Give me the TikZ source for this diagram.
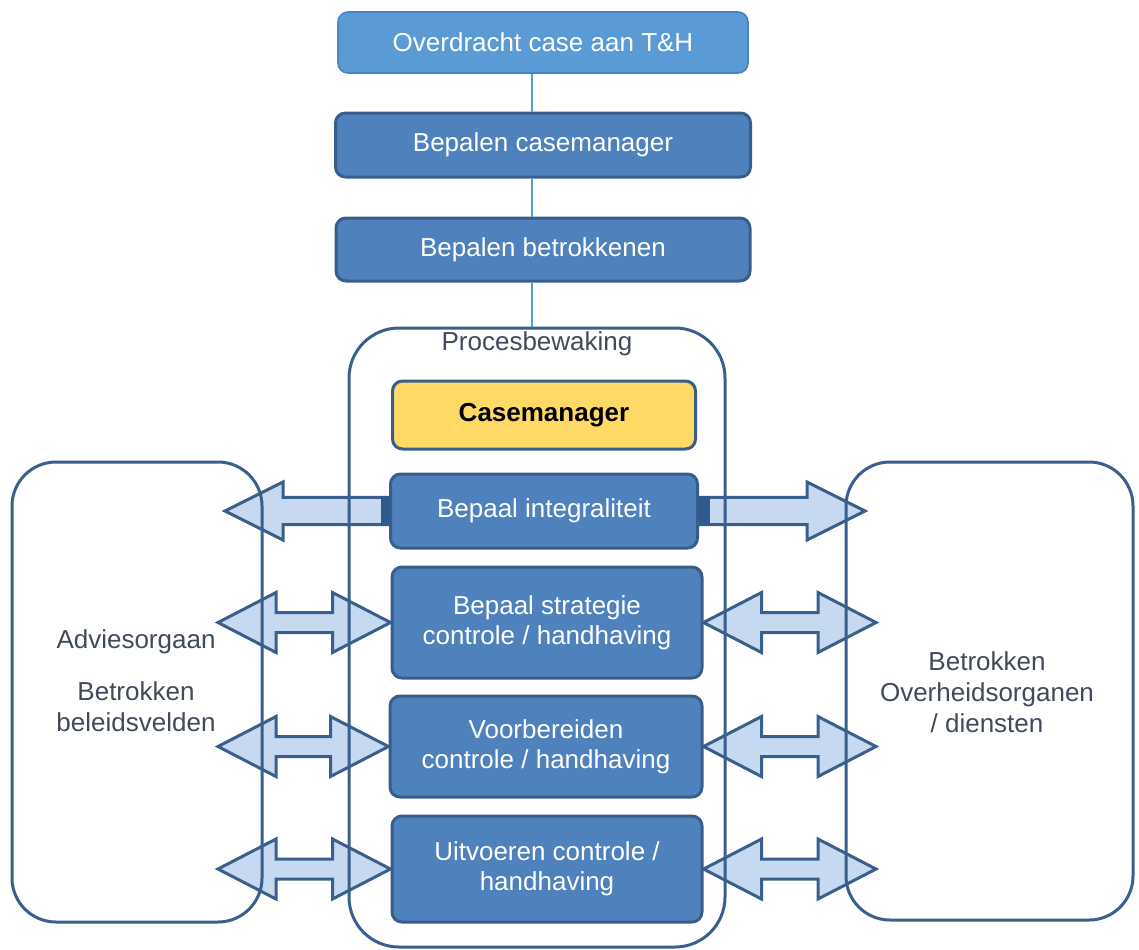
\documentclass[tikz,border=0pt]{standalone}
\usepackage{fontspec}
\setmainfont{Liberation Sans}
\usetikzlibrary{positioning,calc}

\definecolor{stepblue}{HTML}{4F81BD}
\definecolor{stepedge}{HTML}{385D8A}
\definecolor{startblue}{HTML}{5B9BD5}
\definecolor{startedge}{HTML}{4A84C0}
\definecolor{caseyellow}{HTML}{FFD966}
\definecolor{arrowfill}{HTML}{C6D9F1}
\definecolor{frameblue}{HTML}{3A5F8C}
\definecolor{labelgray}{HTML}{404A5C}
\definecolor{tailshade}{HTML}{2E5A8E}

\pgfdeclarelayer{arrows}
\pgfsetlayers{arrows,main}

% fat two-headed arrow between two points on one level
\newcommand{\dblarrow}[2]{%
  \path[fatarrow] let \p1=(#1), \p2=(#2),
      \p3=($(#1)!29pt!(#2)$), \p4=($(#2)!29pt!(#1)$) in
    (\x1,\y1) -- (\x3,\y1+15pt) -- (\x3,\y1+5pt) -- (\x4,\y1+5pt) -- (\x4,\y1+15pt)
    -- (\x2,\y1) -- (\x4,\y1-15pt) -- (\x4,\y1-5pt) -- (\x3,\y1-5pt) -- (\x3,\y1-15pt) -- cycle;}
% fat one-headed arrow, tail at #1, tip at #2
\newcommand{\onearrow}[2]{%
  \path[fatarrow] let \p1=(#1), \p2=(#2), \p3=($(#2)!29pt!(#1)$) in
    (\x1,\y1+6.8pt) -- (\x3,\y1+6.8pt) -- (\x3,\y1+14.5pt) -- (\x2,\y1)
    -- (\x3,\y1-14.5pt) -- (\x3,\y1-6.8pt) -- (\x1,\y1-6.8pt) -- cycle;}

\begin{document}
\begin{tikzpicture}
    [
    x=0.5pt, y=-0.5pt,
    on grid,
    stepbox/.style={draw=stepedge, line width=1.5pt, fill=stepblue, text=white, rounded corners=5pt, align=center, inner sep=2pt, font=\fontsize{13}{15}\selectfont},
    startbox/.style={stepbox, draw=startedge, line width=0.8pt, fill=startblue},
    casebox/.style={stepbox, fill=caseyellow, text=black, font=\fontsize{13}{15}\selectfont\bfseries},
    partybox/.style={draw=frameblue, line width=1.5pt, rounded corners=22pt},
    partytext/.style={text=labelgray, align=center, font=\fontsize{13}{15.5}\selectfont},
    procframe/.style={draw=frameblue, line width=1.5pt, rounded corners=25pt},
    link/.style={draw=startblue, line width=0.6pt},
    fatarrow/.style={draw=frameblue, fill=arrowfill, line width=1.5pt},
    ]

    \useasboundingbox (0,0) rectangle (1139,949);

    % intake steps
    \node[startbox, minimum width=205pt, minimum height=30.5pt] (box_overdracht) at (543,42.5) {Overdracht case aan T\&H};
    \node[stepbox, minimum width=207.5pt, minimum height=32pt, below=51.25pt of box_overdracht] (box_bep_cm) {Bepalen casemanager};
    \node[stepbox, minimum width=207pt, minimum height=31.5pt, below=52.25pt of box_bep_cm] (box_bep_betr) {Bepalen betrokkenen};

    % parties left and right
    \node[partybox, minimum width=125pt, minimum height=230pt] (box_advies) at (137,692) {};
    \node[partytext] (lbl_advies) at (136,681) {Adviesorgaan\\[10.5pt]Betrokken\\beleidsvelden};
    \node[partybox, minimum width=143.5pt, minimum height=229pt] (box_overheid) at (989.5,691) {};
    \node[partytext] (lbl_overheid) at (987,692) {Betrokken\\Overheidsorganen\\/ diensten};

    % procesbewaking
    \node[procframe, minimum width=188pt, minimum height=309.5pt] (box_proc) at (537,637.5) {};
    \node[partytext] (lbl_proc) at (537,344) {Procesbewaking};

    \node[casebox, minimum width=151.5pt, minimum height=34pt] (box_casemgr) at (544,415) {Casemanager};
    \node[stepbox, minimum width=153.5pt, minimum height=37pt, below=48pt of box_casemgr] (box_integ) {Bepaal integraliteit};
    \node[stepbox, minimum width=155pt, minimum height=55.5pt] (box_strat) at (547,622.5) {Bepaal strategie\\controle / handhaving};
    \node[stepbox, minimum width=156pt, minimum height=50.5pt] (box_voorb) at (546,746.5) {Voorbereiden\\controle / handhaving};
    \node[stepbox, minimum width=155pt, minimum height=53pt] (box_uitv) at (547,869) {Uitvoeren controle /\\handhaving};

    % links
    \coordinate (spine) at (532,0);
    \draw[link] (box_overdracht.south -| spine) -- (box_bep_cm.north -| spine);
    \draw[link] (box_bep_cm.south -| spine) -- (box_bep_betr.north -| spine);
    \draw[link] (box_bep_betr.south -| spine) -- (box_proc.north -| spine);

    % arrows
    \begin{pgfonlayer}{arrows}
    \coordinate (tip_integ_l) at (225,511);
    \coordinate (tip_integ_r) at (865,511);
    \onearrow{box_integ.west}{tip_integ_l}
    \onearrow{box_integ.east}{tip_integ_r}
    \fill[tailshade] ($(box_integ.west)+(-4pt,-7.5pt)$) rectangle ($(box_integ.west)+(1pt,7.5pt)$);
    \fill[tailshade] ($(box_integ.east)+(-1pt,-7.5pt)$) rectangle ($(box_integ.east)+(5.5pt,7.5pt)$);
    \foreach \nm/\yy in {strat/622.5,voorb/746.5,uitv/869}{
        \coordinate (tip_\nm_l) at (218,\yy);
        \coordinate (tip_\nm_r) at (876,\yy);
        \dblarrow{tip_\nm_l}{box_\nm.west}
        \dblarrow{box_\nm.east}{tip_\nm_r}
    }
    \end{pgfonlayer}
\end{tikzpicture}
\end{document}
